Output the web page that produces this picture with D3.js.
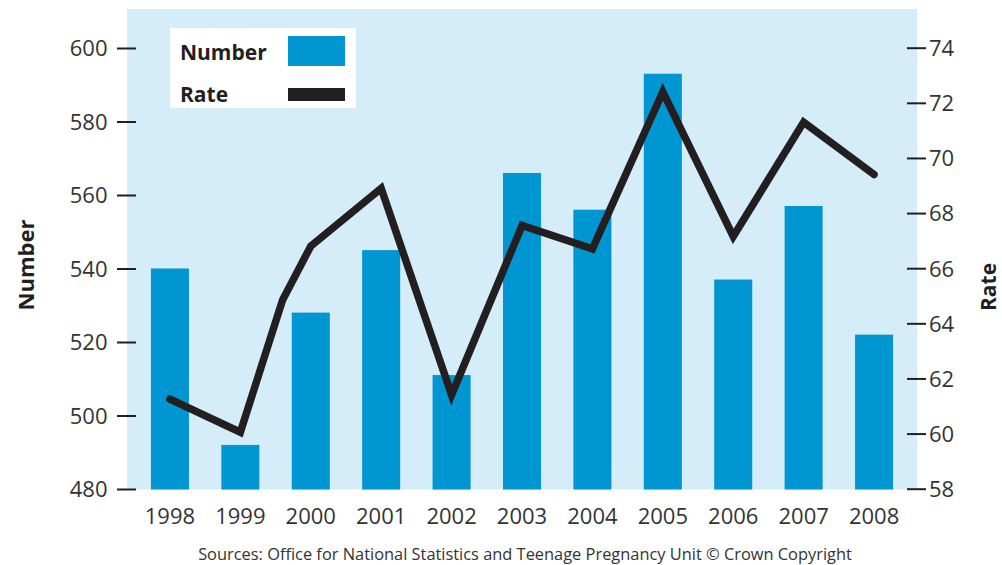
<!DOCTYPE html>
<html>
<head>
<meta charset="utf-8">
<script src="https://cdn.jsdelivr.net/npm/d3@7"></script>
<style>
  html, body { margin: 0; padding: 0; background: #ffffff; }
  svg { display: block; }
  text { font-family: "Open Sans", "Noto Sans", sans-serif; }
</style>
</head>
<body>
<svg id="chart" width="1002" height="565"></svg>
<script>
// Conceptions to under-18s: number and rate, 1998–2008
const years = [1998, 1999, 2000, 2001, 2002, 2003, 2004, 2005, 2006, 2007, 2008];
const numbers = [540, 492, 528, 545, 511, 566, 556, 593, 537, 557, 522];

// Rate line vertices (year position, rate)
const rateYears = [1998, 1999, 1999.6, 2000, 2001, 2002, 2003, 2004, 2005, 2006, 2007, 2008];
const rates = [61.25, 60.05, 64.85, 66.8, 68.9, 61.4, 67.55, 66.7, 72.4, 67.15, 71.3, 69.4];

const numberTicks = [480, 500, 520, 540, 560, 580, 600];
const rateTicks = [58, 60, 62, 64, 66, 68, 70, 72, 74];

const plot = { left: 127, right: 917, top: 9, bottom: 489.5 };

const svg = d3.select("#chart");

const x = d3.scaleBand()
  .domain(years)
  .range([plot.left, plot.right])
  .paddingInner(0.46)
  .paddingOuter(0.34);

const yNum = d3.scaleLinear().domain([480, 600]).range([489, 48]);
const yRate = d3.scaleLinear().domain([58, 74]).range([488.7, 47.7]);

// position along the year axis for (possibly fractional) years
const yearPos = d3.scaleLinear()
  .domain([years[0], years[years.length - 1]])
  .range([x(years[0]) + x.bandwidth() / 2, x(years[years.length - 1]) + x.bandwidth() / 2]);

// plot background
svg.append("rect")
  .attr("x", plot.left).attr("y", plot.top)
  .attr("width", plot.right - plot.left)
  .attr("height", plot.bottom - plot.top)
  .attr("fill", "#d5ecf9");

// bars
svg.append("g").selectAll("rect")
  .data(years)
  .join("rect")
  .attr("x", d => x(d))
  .attr("y", (d, i) => yNum(numbers[i]))
  .attr("width", x.bandwidth())
  .attr("height", (d, i) => plot.bottom - yNum(numbers[i]))
  .attr("fill", "#0096d2");

// rate line
const line = d3.line()
  .x((d, i) => yearPos(rateYears[i]))
  .y(d => yRate(d));

svg.append("path")
  .datum(rates)
  .attr("d", line)
  .attr("fill", "none")
  .attr("stroke", "#231f20")
  .attr("stroke-width", 7.5)
  .attr("stroke-linejoin", "miter")
  .attr("stroke-miterlimit", 10)
  .attr("stroke-linecap", "round");

// left axis (Number)
const leftAxis = svg.append("g")
  .attr("transform", `translate(${plot.left},0)`)
  .call(d3.axisLeft(yNum).tickValues(numberTicks).tickSize(0).tickFormat(d3.format("d")));
leftAxis.select(".domain").remove();
leftAxis.selectAll(".tick line")
  .attr("x1", -10).attr("x2", 9)
  .attr("stroke", "#231f20").attr("stroke-width", 2);
leftAxis.selectAll(".tick text")
  .attr("x", -19.5)
  .attr("dy", "0.36em")
  .attr("fill", "#333333")
  .style("font-size", "22px");

// right axis (Rate)
const rightAxis = svg.append("g")
  .attr("transform", `translate(${plot.right},0)`)
  .call(d3.axisRight(yRate).tickValues(rateTicks).tickSize(0).tickFormat(d3.format("d")));
rightAxis.select(".domain").remove();
rightAxis.selectAll(".tick line")
  .attr("x1", -10).attr("x2", 9)
  .attr("stroke", "#231f20").attr("stroke-width", 2);
rightAxis.selectAll(".tick text")
  .attr("x", 12)
  .attr("dy", "0.36em")
  .attr("fill", "#333333")
  .style("font-size", "22px");

// year axis
const bottomAxis = svg.append("g")
  .attr("transform", `translate(0,${plot.bottom})`)
  .call(d3.axisBottom(x).tickSize(0));
bottomAxis.select(".domain").remove();
bottomAxis.selectAll(".tick text")
  .attr("y", 34)
  .attr("dy", 0)
  .attr("fill", "#333333")
  .style("font-size", "22px");

// axis titles
svg.append("text")
  .attr("transform", "translate(34,265) rotate(-90)")
  .attr("text-anchor", "middle")
  .attr("fill", "#231f20")
  .style("font-size", "22px")
  .style("font-weight", "700")
  .text("Number");

svg.append("text")
  .attr("transform", "translate(996,287) rotate(-90)")
  .attr("text-anchor", "middle")
  .attr("fill", "#231f20")
  .style("font-size", "21px")
  .style("font-weight", "700")
  .text("Rate");

// legend
const legend = svg.append("g");
legend.append("rect")
  .attr("x", 170).attr("y", 28)
  .attr("width", 186).attr("height", 80)
  .attr("fill", "#ffffff");
legend.append("text")
  .attr("x", 180).attr("y", 60)
  .attr("fill", "#231f20")
  .style("font-size", "21px").style("font-weight", "700")
  .text("Number");
legend.append("rect")
  .attr("x", 288).attr("y", 36)
  .attr("width", 57).attr("height", 30)
  .attr("fill", "#0096d2");
legend.append("text")
  .attr("x", 180).attr("y", 102)
  .attr("fill", "#231f20")
  .style("font-size", "21px").style("font-weight", "700")
  .text("Rate");
legend.append("rect")
  .attr("x", 288).attr("y", 88)
  .attr("width", 57).attr("height", 13)
  .attr("fill", "#231f20");

// source note
svg.append("text")
  .attr("x", 525).attr("y", 560)
  .attr("text-anchor", "middle")
  .attr("fill", "#333333")
  .style("font-size", "16.4px")
  .text("Sources: Office for National Statistics and Teenage Pregnancy Unit © Crown Copyright");
</script>
</body>
</html>
